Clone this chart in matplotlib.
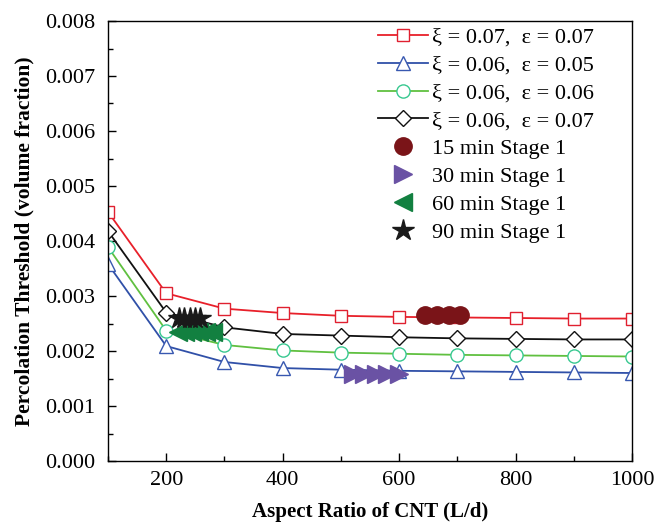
import matplotlib
matplotlib.use("Agg")
import matplotlib.pyplot as plt
from matplotlib.ticker import MultipleLocator, FormatStrFormatter

aspect = [100, 200, 300, 400, 500, 600, 700, 800, 900, 1000]
red_vals = [0.00453, 0.00305, 0.00277, 0.00269, 0.00264, 0.00262, 0.00261, 0.00260, 0.00259, 0.00259]
blue_vals = [0.00358, 0.00209, 0.00180, 0.00169, 0.00166, 0.00164, 0.00163, 0.00162, 0.00161, 0.00160]
green_vals = [0.00389, 0.00237, 0.00211, 0.00201, 0.00197, 0.00195, 0.00193, 0.00192, 0.00191, 0.00190]
black_vals = [0.00418, 0.00270, 0.00243, 0.00231, 0.00228, 0.00225, 0.00223, 0.00222, 0.00221, 0.00221]

s15_x = [645, 665, 685, 705]
s15_y = [0.00266, 0.00266, 0.00266, 0.00266]
s30_x = [520, 540, 560, 580, 600]
s30_y = [0.00158, 0.00158, 0.00158, 0.00158, 0.00158]
s60_x = [220, 232, 244, 256, 268, 280]
s60_y = [0.00234, 0.00234, 0.00234, 0.00234, 0.00234, 0.00234]
s90_x = [222, 231, 240, 249, 258]
s90_y = [0.00260, 0.00260, 0.00260, 0.00260, 0.00260]

labels = ["ξ = 0.07,  ε = 0.07", "ξ = 0.06,  ε = 0.05", "ξ = 0.06,  ε = 0.06", "ξ = 0.06,  ε = 0.07",
          "15 min Stage 1", "30 min Stage 1", "60 min Stage 1", "90 min Stage 1"]

plt.rcParams['font.family'] = ['Liberation Serif', 'DejaVu Serif']
plt.rcParams['mathtext.fontset'] = 'stix'

fig = plt.figure(figsize=(6.54, 5.23), dpi=100)
ax = fig.add_axes([108/654, 1-461/523, (632-108)/654, (461-21)/523])

ax.plot(aspect, red_vals, color='#e8202a', lw=1.3, marker='s', ms=8.5, mfc='white', mec='#e02030', mew=1.0, label=labels[0])
ax.plot(aspect, blue_vals, color='#3050a8', lw=1.3, marker='^', ms=9.5, mfc='white', mec='#3858b0', mew=1.0, label=labels[1])
ax.plot(aspect, green_vals, color='#60c040', lw=1.3, marker='o', ms=9.5, mfc='white', mec='#38c890', mew=1.0, label=labels[2])
ax.plot(aspect, black_vals, color='#111111', lw=1.3, marker='D', ms=8.5, mfc='white', mec='#111111', mew=1.0, label=labels[3])

ax.plot(s15_x, s15_y, ls='none', marker='o', ms=12.5, color='#7a1418', label=labels[4])
ax.plot(s30_x, s30_y, ls='none', marker='>', ms=13, color='#6a52a4', label=labels[5])
ax.plot(s60_x, s60_y, ls='none', marker='<', ms=13, color='#128040', label=labels[6])
ax.plot(s90_x, s90_y, ls='none', marker='*', ms=16, color='#1a1a1a', label=labels[7])

ax.set_xlim(100, 1000)
ax.set_ylim(0, 0.008)
ax.xaxis.set_major_locator(MultipleLocator(200))
ax.xaxis.set_minor_locator(MultipleLocator(100))
ax.yaxis.set_major_locator(MultipleLocator(0.001))
ax.yaxis.set_minor_locator(MultipleLocator(0.0005))
ax.yaxis.set_major_formatter(FormatStrFormatter('%.3f'))
ax.tick_params(axis='both', which='major', direction='in', length=6, width=1, labelsize=16)
ax.tick_params(axis='y', which='major', pad=9)
ax.tick_params(axis='x', which='major', pad=7)
ax.tick_params(axis='both', which='minor', direction='in', length=3.5, width=1)
ax.tick_params(top=False, right=False)

ax.set_xlabel('Aspect Ratio of CNT (L/d)', fontsize=15, fontweight='bold', labelpad=9)
ax.set_ylabel('Percolation Threshold (volume fraction)', fontsize=15.5, fontweight='bold', labelpad=8)
for sp in ax.spines.values():
    sp.set_linewidth(1.0)

leg = ax.legend(loc='upper right', bbox_to_anchor=((594-108)/524, 1 - 6/440), frameon=False, fontsize=16,
                handlelength=2.25, handletextpad=0.2, labelspacing=0.33, borderaxespad=0, borderpad=0)

fig.savefig('out.png', dpi=100)
